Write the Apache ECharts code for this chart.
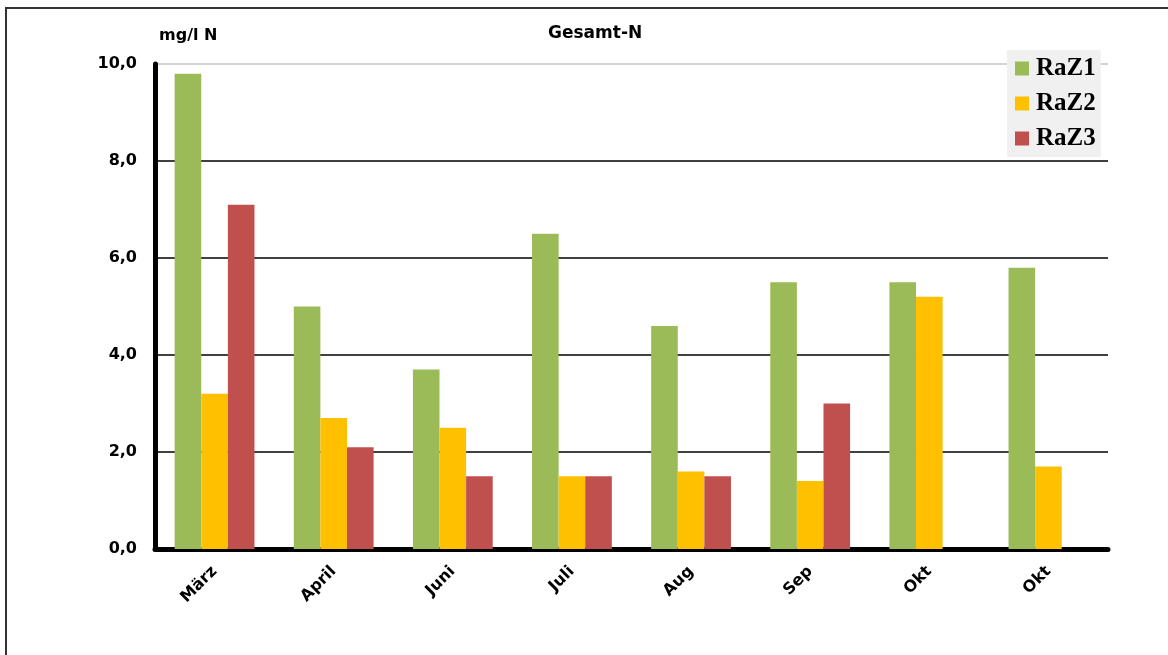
<!DOCTYPE html>
<html>
<head>
<meta charset="utf-8">
<title>Gesamt-N</title>
<script src="https://cdn.jsdelivr.net/npm/echarts@6/dist/echarts.min.js"></script>
<style>
  html, body { margin: 0; padding: 0; background: #ffffff; }
  #chart { width: 1168px; height: 655px; }
</style>
</head>
<body>
<div id="chart"></div>
<script>
// Sampling months (October was sampled twice)
const months = ['März', 'April', 'Juni', 'Juli', 'Aug', 'Sep', 'Okt', 'Okt'];

// Total nitrogen, mg/l N
const raz1 = [9.8, 5.0, 3.7, 6.5, 4.6, 5.5, 5.5, 5.8];
const raz2 = [3.2, 2.7, 2.5, 1.5, 1.6, 1.4, 5.2, 1.7];
const raz3 = [7.1, 2.1, 1.5, 1.5, 1.5, 3.0, null, null];

const seriesNames = ['RaZ1', 'RaZ2', 'RaZ3'];
const seriesColors = ['#9BBB59', '#FFC000', '#C0504D'];

const yMin = 0, yMax = 10, yStep = 2;

const sans = 'DejaVu Sans';
const chart = echarts.init(document.getElementById('chart'), null, { renderer: 'canvas' });

const bar = (name, data, color) => ({
  name,
  type: 'bar',
  data,
  barGap: '0%',
  barCategoryGap: '33%',
  itemStyle: { color },
  emphasis: { disabled: true }
});

chart.setOption({
  animation: false,
  backgroundColor: '#ffffff',
  textStyle: { fontFamily: sans },
  title: {
    text: 'Gesamt-N',
    left: 543,
    top: 20,
    textStyle: { fontFamily: sans, fontSize: 17, fontWeight: 'bold', color: '#000' }
  },
  legend: {
    data: seriesNames,
    orient: 'vertical',
    left: 1007,
    top: 50,
    itemWidth: 14,
    itemHeight: 14,
    itemGap: 10,
    padding: [6, 5, 6, 8],
    backgroundColor: '#f0f0f0',
    icon: 'rect',
    textStyle: {
      fontFamily: 'Liberation Serif',
      fontSize: 25,
      fontWeight: 'bold',
      color: '#000',
      lineHeight: 24,
      padding: [0, 0, 0, 2]
    }
  },
  grid: { left: 155, right: 60, top: 64, bottom: 106, containLabel: false },
  xAxis: {
    type: 'category',
    data: months,
    axisLine: { show: true, lineStyle: { color: '#000', width: 5 } },
    axisTick: { show: false },
    splitLine: { show: false },
    axisLabel: {
      rotate: 45,
      margin: 20,
      interval: 0,
      fontFamily: sans,
      fontSize: 16,
      fontWeight: 'bold',
      color: '#000'
    }
  },
  yAxis: {
    type: 'value',
    min: yMin,
    max: yMax,
    interval: yStep,
    name: 'mg/l N',
    nameLocation: 'end',
    nameGap: 28,
    nameTextStyle: {
      fontFamily: sans, fontSize: 16, fontWeight: 'bold', color: '#000',
      align: 'left', verticalAlign: 'middle', padding: [0, 0, 0, 4]
    },
    axisLine: { show: true, lineStyle: { color: '#000', width: 5 } },
    axisTick: { show: false },
    axisLabel: {
      margin: 18,
      fontFamily: sans,
      fontSize: 16,
      fontWeight: 'bold',
      color: '#000',
      formatter: v => v.toFixed(1).replace('.', ',')
    },
    splitLine: {
      show: true,
      lineStyle: { color: ['#bbbbbb', '#000', '#000', '#000', '#000', '#c4c4c4'], width: 1.5 }
    }
  },
  graphic: [{
    type: 'polyline',
    silent: true,
    shape: { points: [[6, 655], [6, 8], [1168, 8]] },
    style: { stroke: '#333', lineWidth: 2, fill: null }
  }],
  series: [
    bar(seriesNames[0], raz1, seriesColors[0]),
    bar(seriesNames[1], raz2, seriesColors[1]),
    bar(seriesNames[2], raz3, seriesColors[2])
  ]
});
</script>
</body>
</html>
